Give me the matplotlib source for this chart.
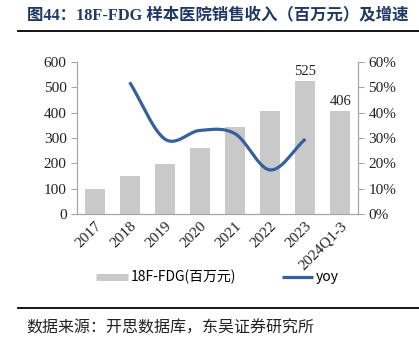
import numpy as np
import matplotlib
matplotlib.use("Agg")
import matplotlib.pyplot as plt
from matplotlib.lines import Line2D

categories = ["2017", "2018", "2019", "2020", "2021", "2022", "2023", "2024Q1-3"]
sales = [100, 152, 197, 262, 345, 405, 525, 406]
yoy_idx = [1, 2, 3, 4, 5, 6]
yoy = [52.0, 29.6, 33.0, 31.7, 17.4, 29.6]
label_idx = [6, 7]

title = "图44：18F-FDG 样本医院销售收入（百万元）及增速"
source = "数据来源：开思数据库，东吴证券研究所"

serif = ["Liberation Serif", "DejaVu Serif"]
cjk = ["Noto Sans CJK SC", "DejaVu Sans"]

bar_color = "#C9C9C9"
line_color = "#36609B"
spine_color = "#A6A6A6"
title_color = "#1F3864"

fig = plt.figure(figsize=(4.19, 3.49), dpi=100)
ax = fig.add_axes([0.1838, 0.3868, 0.6706, 0.4355])
ax2 = ax.twinx()

x = np.arange(len(categories))
ax.bar(x, sales, width=0.57, color=bar_color, zorder=2)
for i in label_idx:
    ax.text(x[i], sales[i] + 12, str(sales[i]), ha="center", va="bottom",
            fontsize=10.5, family=serif, color="#222222")


def cr(v0, v1, v2, v3, t):
    return 0.5 * ((2 * v1) + (-v0 + v2) * t + (2 * v0 - 5 * v1 + 4 * v2 - v3) * t ** 2
                  + (-v0 + 3 * v1 - 3 * v2 + v3) * t ** 3)


# smooth curve (Catmull-Rom style) through the yoy points
px = np.array(yoy_idx, dtype=float)
py = np.array(yoy, dtype=float)
sx, sy = [], []
n = len(px)
t = np.linspace(0, 1, 30)
for k in range(n - 1):
    p0 = (px[k - 1], py[k - 1]) if k > 0 else (2 * px[0] - px[1], 2 * py[0] - py[1])
    p1 = (px[k], py[k])
    p2 = (px[k + 1], py[k + 1])
    p3 = (px[k + 2], py[k + 2]) if k + 2 < n else (2 * px[-1] - px[-2], 2 * py[-1] - py[-2])
    sx.extend(cr(p0[0], p1[0], p2[0], p3[0], t))
    sy.extend(cr(p0[1], p1[1], p2[1], p3[1], t))
ax2.plot(sx, sy, color=line_color, lw=2.3, zorder=3, solid_capstyle="butt")

ax.set_xlim(-0.5, len(categories) - 0.5)
ax.set_ylim(0, 600)
ax.set_yticks(np.arange(0, 601, 100))
ax2.set_ylim(0, 60)
ax2.set_yticks(np.arange(0, 61, 10))
ax2.set_yticklabels([f"{v}%" for v in range(0, 61, 10)])

ax.set_xticks(x)
ax.set_xticklabels(categories, rotation=45, ha="right", rotation_mode="anchor")

for a in (ax, ax2):
    a.spines["top"].set_visible(False)
    for s in ("left", "right", "bottom"):
        a.spines[s].set_color(spine_color)
        a.spines[s].set_linewidth(0.8)
    a.tick_params(axis="both", colors=spine_color, labelcolor="#222222",
                  labelsize=11, length=4, width=0.8)
    for lab in a.get_xticklabels() + a.get_yticklabels():
        lab.set_family(serif)
ax.tick_params(axis="x", length=0, pad=4)
ax.set_zorder(1)
ax2.set_zorder(2)
ax.patch.set_visible(False)

handles = [Line2D([], [], color=bar_color, lw=5, solid_capstyle="butt"),
           Line2D([], [], color=line_color, lw=2.3, solid_capstyle="butt")]
leg = fig.legend(handles, ["18F-FDG(百万元)", "yoy"], loc="center left",
                 bbox_to_anchor=(0.20, 0.206), ncol=2, frameon=False,
                 handlelength=2.3, handletextpad=0.15, columnspacing=3.3,
                 prop={"family": cjk, "size": 10})

fig.text(0.064, 0.955, title, fontsize=11.8, fontweight="bold", color=title_color,
         family=["Liberation Serif", "Noto Sans CJK SC"], va="center", ha="left")
fig.add_artist(Line2D([0.043, 1.0], [0.911, 0.911], color="black", lw=1.3,
                      transform=fig.transFigure))
fig.add_artist(Line2D([0.043, 1.0], [0.118, 0.118], color="black", lw=1.3,
                      transform=fig.transFigure))
fig.text(0.064, 0.06, source, fontsize=11.5, color="#222222", family=cjk,
         va="center", ha="left")

fig.savefig("out.png", dpi=100)
